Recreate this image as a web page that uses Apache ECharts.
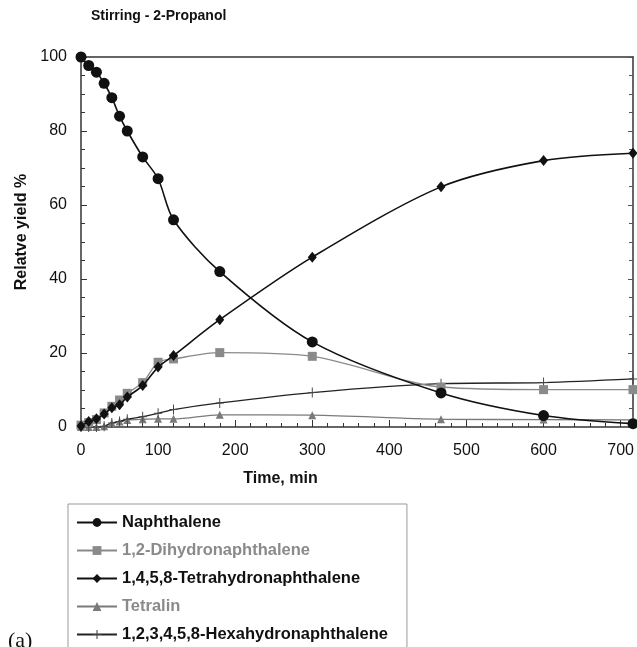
<!DOCTYPE html>
<html>
<head>
<meta charset="utf-8">
<script src="https://cdn.jsdelivr.net/npm/echarts@6/dist/echarts.min.js"></script>
<style>html,body{margin:0;padding:0;background:#fff;}#c{width:637px;height:647px;}</style>
</head>
<body>
<div id="c"></div>
<script>
var times = [0, 10, 20, 30, 40, 50, 60, 80, 100, 120, 180, 300, 467, 600, 716];
var naphthalene = [100, 97.7, 95.9, 92.9, 89, 84, 80, 73, 67.1, 56, 42, 23, 9.2, 3.1, 0.9];
var dihydro = [0.5, 1.2, 2, 3.8, 5.6, 7.3, 9.1, 12, 17.5, 18.4, 20.1, 19.1, 10.8, 10.1, 10.1];
var tetrahydro = [0.3, 1.5, 2.2, 3.5, 5.2, 6, 8.1, 11.2, 16.2, 19.3, 29, 45.9, 64.9, 72, 74];
var tetralin = [0, 0, 0, 0.2, 1, 1.5, 1.9, 2.1, 2.2, 2.2, 3.3, 3.2, 2.1, 2, 1.9];
var hexahydro = [0, 0, 0, 0.2, 1.1, 1.5, 2.1, 2.8, 3.7, 4.7, 6.5, 9.3, 11.7, 12, 13];
var seriesNames = ['Naphthalene', '1,2-Dihydronaphthalene', '1,4,5,8-Tetrahydronaphthalene', 'Tetralin', '1,2,3,4,5,8-Hexahydronaphthalene'];
var xTicks = [0, 100, 200, 300, 400, 500, 600, 700];
var yTicks = [0, 20, 40, 60, 80, 100];

function pairs(vals) { return times.map(function (t, i) { return [t, vals[i]]; }); }

var FONT = 'Liberation Sans, Arial, sans-serif';
var GRAY = '#8a8a8a';
var PLUS = 'path://M4.4,0H5.6V10H4.4Z M0,4.5H10V5.5H0Z';

var chart = echarts.init(document.getElementById('c'), null, {renderer: 'canvas'});
chart.setOption({
  animation: false,
  backgroundColor: '#fff',
  textStyle: {fontFamily: FONT},
  title: [
    {text: 'Stirring - 2-Propanol', left: 91, top: 9, padding: 0,
     textStyle: {fontFamily: FONT, fontSize: 14, fontWeight: 'bold', color: '#111'}},
    {text: '(a)', left: 8, top: 630, padding: 0,
     textStyle: {fontFamily: 'Liberation Serif, DejaVu Serif, serif', fontSize: 22, fontWeight: 'normal', color: '#111'}}
  ],
  grid: {left: 81, right: 3, top: 57, bottom: 220, containLabel: false},
  legend: {
    orient: 'vertical', left: 68, top: 504, height: 170,
    padding: [10, 19, 10, 8],
    itemWidth: 40, itemHeight: 11, itemGap: 11,
    borderColor: '#999', borderWidth: 1, backgroundColor: '#fff',
    textStyle: {fontFamily: FONT, fontSize: 16.5, fontWeight: 'bold', color: '#111'},
    data: [
      {name: seriesNames[0], textStyle: {color: '#111'}},
      {name: seriesNames[1], textStyle: {color: GRAY}},
      {name: seriesNames[2], textStyle: {color: '#111'}},
      {name: seriesNames[3], textStyle: {color: GRAY}},
      {name: seriesNames[4], textStyle: {color: '#111'}}
    ]
  },
  xAxis: [{
    type: 'value', min: 0, max: 716, interval: 100,
    name: 'Time, min', nameLocation: 'middle', nameGap: 44,
    nameTextStyle: {fontFamily: FONT, fontSize: 16, fontWeight: 'bold', color: '#111', padding: [0, 153, 0, 0]},
    axisLine: {lineStyle: {color: '#333', width: 1.5}},
    axisTick: {show: true, inside: true, length: 7, lineStyle: {color: '#333'}},
    minorTick: {show: true, splitNumber: 5, length: 4, lineStyle: {color: '#333'}},
    axisLabel: {fontFamily: FONT, fontSize: 16, color: '#111', margin: 16, showMaxLabel: false,
      formatter: function (v) { return xTicks.indexOf(v) >= 0 ? String(v) : ''; }},
    splitLine: {show: false}
  }, {
    type: 'value', min: 0, max: 716, position: 'top',
    axisLine: {show: true, onZero: false, lineStyle: {color: '#333', width: 1.5}},
    axisTick: {show: false}, axisLabel: {show: false}, splitLine: {show: false}
  }],
  yAxis: [{
    type: 'value', min: 0, max: 100, interval: 20,
    name: 'Relatve yield %', nameLocation: 'middle', nameGap: 50, nameRotate: 90,
    nameTextStyle: {fontFamily: FONT, fontSize: 16, fontWeight: 'bold', color: '#111', padding: [0, 0, 0, 20]},
    axisLine: {show: true, lineStyle: {color: '#333', width: 1.5}},
    axisTick: {show: true, inside: true, length: 6, lineStyle: {color: '#333'}},
    minorTick: {show: true, splitNumber: 4, length: 4, lineStyle: {color: '#333'}},
    axisLabel: {fontFamily: FONT, fontSize: 16, color: '#111', margin: 14, padding: [6, 0, 0, 0],
      formatter: function (v) { return yTicks.indexOf(v) >= 0 ? String(v) : ''; }},
    splitLine: {show: false}
  }, {
    type: 'value', min: 0, max: 100, interval: 20, position: 'right',
    axisLine: {show: true, onZero: false, lineStyle: {color: '#333', width: 1.5}},
    axisTick: {show: true, inside: true, length: 5, lineStyle: {color: '#555'}},
    minorTick: {show: true, splitNumber: 4, length: 4, lineStyle: {color: '#555'}},
    axisLabel: {show: false}, splitLine: {show: false}
  }],
  series: [
    {name: seriesNames[0], type: 'line', data: pairs(naphthalene), smooth: 0.3,
     symbol: 'circle', symbolSize: 11, lineStyle: {color: '#111', width: 1.6},
     itemStyle: {color: '#111'}, z: 5},
    {name: seriesNames[1], type: 'line', data: pairs(dihydro), smooth: 0.3,
     symbol: 'rect', symbolSize: 9, lineStyle: {color: GRAY, width: 1.4},
     itemStyle: {color: GRAY}, z: 3},
    {name: seriesNames[2], type: 'line', data: pairs(tetrahydro), smooth: 0.3,
     symbol: 'diamond', symbolSize: [9, 11], lineStyle: {color: '#111', width: 1.6},
     itemStyle: {color: '#111'}, z: 4},
    {name: seriesNames[3], type: 'line', data: pairs(tetralin), smooth: 0.3,
     symbol: 'triangle', symbolSize: 8, lineStyle: {color: '#7a7a7a', width: 1.3},
     itemStyle: {color: '#7a7a7a'}, z: 2},
    {name: seriesNames[4], type: 'line', data: pairs(hexahydro), smooth: 0.3,
     symbol: PLUS, symbolSize: [8, 10], lineStyle: {color: '#222', width: 1.3},
     itemStyle: {color: '#444'}, z: 2}
  ]
});
</script>
</body>
</html>
